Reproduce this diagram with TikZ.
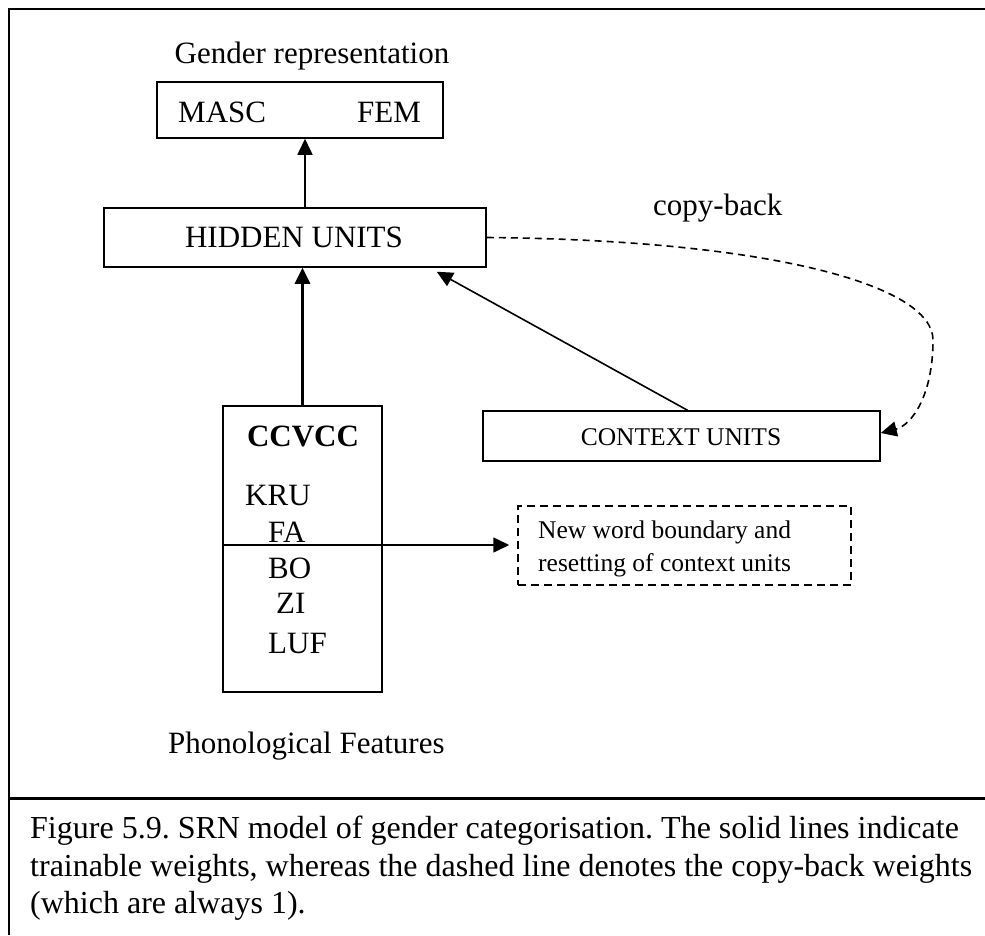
\documentclass[tikz,border=0pt]{standalone}
\usepackage{fontspec}
\setmainfont{Liberation Serif}
\usepackage{tikz}
\usetikzlibrary{arrows.meta, positioning}

\tikzset{
  unitbox/.style={draw, line width=1.5pt, inner sep=0pt},
  bigtxt/.style={font=\fontsize{31}{37.5}\selectfont, inner sep=0pt},
  smalltxt/.style={font=\fontsize{25.5}{33}\selectfont, inner sep=0pt},
  arr/.style={line width=1.6pt, -{Triangle[length=16pt,width=15pt]}},
  frameline/.style={line width=2.6pt}
}

\begin{document}
\frenchspacing
\begin{tikzpicture}[x=1pt, y=-1pt]
\useasboundingbox (0,0) rectangle (985,935);
% outer frame and caption rule
\draw[frameline] (9,935) -- (9,9) -- (985,9);
\draw[frameline, line width=3pt] (9,798) -- (985,798);

% output layer
\node[bigtxt, anchor=base] (glabel) at (312,63) {Gender representation};
\node[unitbox, minimum width=286pt, minimum height=56pt] (gbox) at (300,110) {};
\node[bigtxt, anchor=base west] (masc) at (178,122) {MASC};
\node[bigtxt, anchor=base west] (fem) at (357,122) {FEM};

% hidden and context layers
\node[unitbox, minimum width=382pt, minimum height=59pt] (hidden) at (295,237.5) {};
\node[bigtxt, anchor=base] (hlabel) at (294,247) {HIDDEN UNITS};
\node[unitbox, minimum width=397pt, minimum height=50pt] (ctx) at (681.5,436) {};
\node[smalltxt, anchor=base] (clabel) at (681,445) {CONTEXT UNITS};
\node[bigtxt, anchor=base west] (copy) at (653,215) {copy-back};

% input layer
\node[unitbox, minimum width=159pt, minimum height=286pt] (feat) at (302.5,549) {};
\node[bigtxt, anchor=base, font=\fontsize{31}{37.5}\selectfont\bfseries] (ccv) at (303,446) {CCVCC};
\foreach \w/\xx/\yy in {KRU/245/505, FA/268/542, BO/268/578, ZI/276/613, LUF/268/653}
  \node[bigtxt, anchor=base west] (w\w) at (\xx,\yy) {\w};
\node[bigtxt, anchor=base west] (plabel) at (168,753) {Phonological Features};

% word boundary reset
\node[draw, line width=1.5pt, dash pattern=on 8pt off 5pt, minimum width=333pt, minimum height=79pt, inner sep=0pt] (reset) at (684.5,545.5) {};
\node[smalltxt, anchor=north west, align=left] (rlabel) at (538,520.5) {New word boundary and\\resetting of context units};

% connections
\draw[arr] ([xshift=10pt]hidden.north) -- ([xshift=5pt]gbox.south);
\draw[arr, line width=3.2pt] (feat.north) -- (feat.north |- hidden.south);
\draw[arr] ([xshift=6pt]ctx.north) -- ([xshift=-50pt,yshift=-4pt]hidden.south east);
\draw[arr] ([yshift=4pt]feat.west) -- ([xshift=-8pt,yshift=0.5pt]reset.west);
\coordinate (turn) at (933,340);
\draw[arr, dash pattern=on 7pt off 5pt]
  (hidden.east) .. controls (770,240) and (933,285) .. (turn)
  .. controls (933,395) and (912,425) .. ([yshift=3pt]ctx.east);

% caption
\node[anchor=north west, align=left, inner sep=0pt, font=\fontsize{32}{37.5}\selectfont] (caption) at (30,816)
  {Figure 5.9. SRN model of gender categorisation. The solid lines indicate\\
   trainable weights, whereas the dashed line denotes the copy-back weights\\
   (which are always 1).};
\end{tikzpicture}
\end{document}
